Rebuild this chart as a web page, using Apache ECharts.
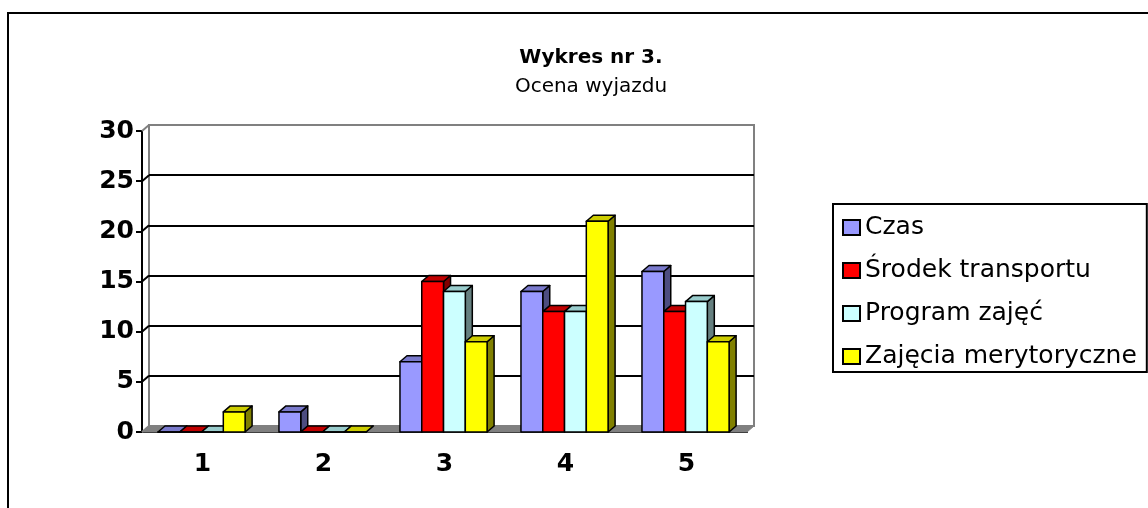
<!DOCTYPE html>
<html>
<head>
<meta charset="utf-8">
<script src="https://cdn.jsdelivr.net/npm/echarts@6/dist/echarts.min.js"></script>
<style>
    html, body {margin: 0; padding: 0; background: #fff;}
    #main {width: 1148px; height: 508px;}
</style>
</head>
<body>
<div id="main"></div>
<script>
    var categories = ['1', '2', '3', '4', '5'];
    var seriesNames = ['Czas', 'Środek transportu', 'Program zajęć', 'Zajęcia merytoryczne'];
    var czas = [0, 2, 7, 14, 16];
    var srodek = [0, 0, 15, 12, 12];
    var program = [0, 0, 14, 12, 13];
    var zajecia = [2, 0, 9, 21, 9];
    var yTicks = [0, 5, 10, 15, 20, 25, 30];

    // front, side, top colours per series
    var colors = [
        ['#9999ff', '#4d4d80', '#7a7acc'],
        ['#ff0000', '#800000', '#c00000'],
        ['#ccffff', '#668080', '#99cccc'],
        ['#ffff00', '#808000', '#cccc00']
    ];
    var dx = 7, dy = 6;
    var font = 'DejaVu Sans';

    function barRender(k) {
        var c = colors[k];
        return function (params, api) {
            var idx = api.value(0), val = api.value(1);
            var top = api.coord([idx, val]);
            var base = api.coord([idx, 0]);
            var band = api.size([1, 0])[0];
            var w = band * 0.18;
            var x0 = top[0] - band / 2 + band * 0.132 + k * w;
            var yt = top[1], yb = base[1];
            var st = {stroke: '#000', lineWidth: 1.5, lineJoin: 'round'};
            return {
                type: 'group',
                children: [
                    {type: 'polygon', shape: {points: [[x0 + w, yb], [x0 + w + dx, yb - dy], [x0 + w + dx, yt - dy], [x0 + w, yt]]},
                        style: Object.assign({fill: c[1]}, st)},
                    {type: 'polygon', shape: {points: [[x0, yt], [x0 + w, yt], [x0 + w + dx, yt - dy], [x0 + dx, yt - dy]]},
                        style: Object.assign({fill: c[2]}, st)},
                    {type: 'rect', shape: {x: x0, y: yt, width: w, height: yb - yt},
                        style: Object.assign({fill: c[0]}, st)}
                ]
            };
        };
    }

    function floorRender(params, api) {
        var band = api.size([1, 0])[0];
        var first = api.coord([0, 0]);
        var last = api.coord([categories.length - 1, 0]);
        var left = first[0] - band / 2, right = last[0] + band / 2, y0 = first[1];
        var children = [{
            type: 'polygon',
            shape: {points: [[left, y0], [right, y0], [right + dx, y0 - dy], [left + dx, y0 - dy]]},
            style: {fill: '#808080', stroke: '#808080', lineWidth: 1}
        }];
        yTicks.forEach(function (v) {
            var p = api.coord([0, v]);
            children.push({
                type: 'line',
                shape: {x1: left, y1: p[1], x2: left + dx, y2: p[1] - dy},
                style: {stroke: v === 30 || v === 0 ? '#808080' : '#000', lineWidth: 2}
            });
        });
        return {type: 'group', children: children};
    }

    var chart = echarts.init(document.getElementById('main'));
    var allData = [czas, srodek, program, zajecia];

    var series = [{
        type: 'custom',
        name: 'floor',
        xAxisIndex: 0,
        yAxisIndex: 0,
        silent: true,
        renderItem: floorRender,
        data: [[0, 0]]
    }];
    allData.forEach(function (arr, k) {
        series.push({
            type: 'custom',
            name: seriesNames[k],
            xAxisIndex: 0,
            yAxisIndex: 0,
            itemStyle: {color: colors[k][0], borderColor: '#000', borderWidth: 1.5},
            renderItem: barRender(k),
            data: arr.map(function (v, i) { return [i, v]; })
        });
    });

    var option = {
        animation: false,
        backgroundColor: '#fff',
        textStyle: {fontFamily: font, color: '#000'},
        title: {
            text: 'Wykres nr 3.',
            subtext: 'Ocena wyjazdu',
            left: 586,
            top: 43,
            textAlign: 'center',
            itemGap: 9,
            textStyle: {fontFamily: font, fontSize: 20, fontWeight: 'bold', color: '#000'},
            subtextStyle: {fontFamily: font, fontSize: 20, color: '#000'}
        },
        graphic: [{
            type: 'rect',
            shape: {x: 8, y: 13, width: 1200, height: 600},
            style: {fill: 'none', stroke: '#000', lineWidth: 2}
        }],
        legend: {
            data: seriesNames,
            orient: 'vertical',
            left: 833,
            top: 204,
            padding: [11, 10, 3, 9],
            itemGap: 18,
            itemWidth: 17,
            itemHeight: 15,
            itemTextGap: 7,
            icon: 'rect',
            borderColor: '#000',
            borderWidth: 2,
            backgroundColor: '#fff',
            textStyle: {fontFamily: font, fontSize: 25, color: '#000'}
        },
        grid: [
            {left: 142, right: 401, top: 131, bottom: 76},
            {left: 149, right: 394, top: 125, bottom: 82, show: true, borderColor: '#808080', borderWidth: 2}
        ],
        xAxis: [{
            gridIndex: 0,
            type: 'category',
            data: categories,
            axisLine: {lineStyle: {color: '#000', width: 2}},
            axisTick: {length: 6, lineStyle: {color: '#000', width: 2}},
            axisLabel: {margin: 20, fontFamily: font, fontSize: 25, fontWeight: 'bold', color: '#000'},
            splitLine: {show: false}
        }, {
            gridIndex: 1,
            type: 'category',
            data: categories,
            show: false
        }],
        yAxis: [{
            gridIndex: 0,
            type: 'value',
            min: 0, max: 30, interval: 5,
            axisLine: {show: true, lineStyle: {color: '#000', width: 2}},
            axisTick: {show: true, length: 6, lineStyle: {color: '#000', width: 2}},
            axisLabel: {margin: 8, fontFamily: font, fontSize: 25, fontWeight: 'bold', color: '#000'},
            splitLine: {show: false}
        }, {
            gridIndex: 1,
            type: 'value',
            min: 0, max: 30, interval: 5,
            axisLine: {show: false},
            axisTick: {show: false},
            axisLabel: {show: false},
            splitLine: {show: true, showMinLine: false, showMaxLine: false, lineStyle: {color: '#000', width: 2}}
        }],
        series: series
    };
    chart.setOption(option);
</script>
</body>
</html>
